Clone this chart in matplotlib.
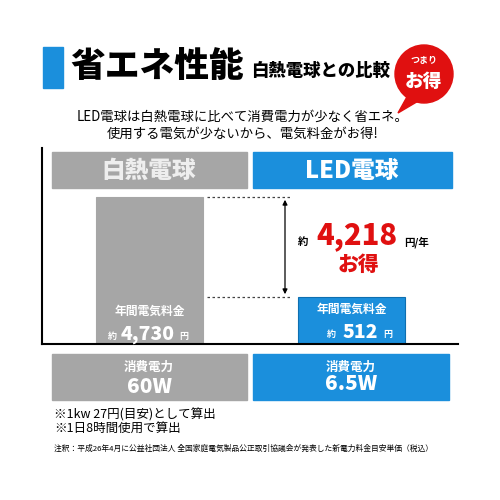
import matplotlib
matplotlib.use("Agg")
import matplotlib.pyplot as plt
from matplotlib.patches import Rectangle, Circle, Polygon

plt.rcParams['font.family'] = ['Noto Sans CJK JP', 'DejaVu Sans']

# data
bulbs = ['白熱電球', 'LED電球']
annual_cost = [4730, 512]          # 円/年
power_w = ['60W', '6.5W']
saving = annual_cost[0] - annual_cost[1]
colors = ['#a6a6a6', '#1b8fdc']
RED = '#e01010'

fig = plt.figure(figsize=(5, 5), dpi=100)

# bar area (pixel box 42..458 x, 150..344 y)
ax = fig.add_axes([42/500, 1-344/500, 416/500, 194/500])
ax.set_yscale('log')
ax.set_ylim(180, 13450)
ax.set_xlim(42, 458)
centers = [149.5, 351.5]
ax.bar(centers, annual_cost, width=107, bottom=0.1, color=colors, edgecolor=['#a6a6a6', '#0f6fb0'], lw=0.8)
ax.axis('off')

# overlay in pixel coordinates
ov = fig.add_axes([0, 0, 1, 1], facecolor='none')
ov.set_xlim(0, 500)
ov.set_ylim(500, 0)
ov.axis('off')

def t(x, y, s, size, color='black', ha='center', weight='bold', **kw):
    ov.text(x, y, s, fontsize=size, color=color, ha=ha, va='center', fontweight=weight, **kw)

# title
ov.add_patch(Rectangle((43, 47), 20, 41, color='#1b8fdc'))
t(70, 67, '省エネ性能', 25, ha='left', weight='heavy')
t(251, 71, '白熱電球との比較', 12.5, ha='left', weight='heavy')
ov.add_patch(Polygon([[408, 95], [398, 113], [420, 100]], closed=True, color=RED))
ov.add_patch(Circle((424, 74), 29, color=RED))
t(424, 61, 'つまり', 6.5, color='white')
t(424, 81, 'お得', 13.5, color='white', weight='heavy')

t(243, 117, 'LED電球は白熱電球に比べて消費電力が少なく省エネ。', 9.6, weight='normal')
t(243, 134, '使用する電気が少ないから、電気料金がお得!', 9.6, weight='normal')

# frame lines
ov.plot([42, 42], [148, 344], color='black', lw=1.5)
ov.plot([42, 458], [344, 344], color='black', lw=1.5)

# headers
ov.add_patch(Rectangle((52, 152), 195, 36, color=colors[0]))
ov.add_patch(Rectangle((253, 152), 199, 36, color=colors[1]))
t(149, 171, bulbs[0], 17, color='#eeeeee', weight='heavy')
t(352, 171, bulbs[1], 17, color='white', weight='heavy')

# bar labels
t(149.5, 311, '年間電気料金', 8.5, color='white')
t(112, 336, '約', 6.5, color='white')
t(148, 334, f'{annual_cost[0]:,}', 14, color='white', weight='heavy')
t(184, 337, '円', 6.5, color='white')
t(351.5, 309, '年間電気料金', 8.5, color='white')
t(331, 334, '約', 6.5, color='white')
t(360, 332, f'{annual_cost[1]:,}', 14, color='white', weight='heavy')
t(388, 335, '円', 6.5, color='white')

# difference marker
ov.plot([207, 290], [197, 197], ls=(0, (2, 2)), color='#444444', lw=0.9)
ov.plot([207, 290], [297, 297], ls=(0, (2, 2)), color='#444444', lw=0.9)
ov.annotate('', xy=(285, 197), xytext=(285, 297),
            arrowprops=dict(arrowstyle='<|-|>', color='black', lw=0.9, mutation_scale=7))
t(303, 242, '約', 7.5)
t(357, 236, f'{saving:,}', 21, color=RED, weight='heavy')
t(404, 242, '円/年', 7.5, ha='left')
t(358, 265, 'お得', 15, color=RED, weight='heavy')

# power boxes
ov.add_patch(Rectangle((52, 354), 195, 46, color=colors[0]))
ov.add_patch(Rectangle((253, 354), 196, 46, color=colors[1]))
t(149, 367, '消費電力', 9, color='white')
t(149, 387, power_w[0], 15, color='white', weight='heavy')
t(351, 367, '消費電力', 9, color='white')
t(351, 384, power_w[1], 15, color='white', weight='heavy')

t(54, 415, '※1kw 27円(目安)として算出', 9, ha='left', weight='normal')
t(54, 428, '※1日8時間使用で算出', 9, ha='left', weight='normal')
t(54, 449, '注釈：平成26年4月に公益社団法人 全国家庭電気製品公正取引協議会が発表した新電力料金目安単価（税込）',
  5.6, ha='left', weight='normal')

fig.savefig('out.png', dpi=100)
